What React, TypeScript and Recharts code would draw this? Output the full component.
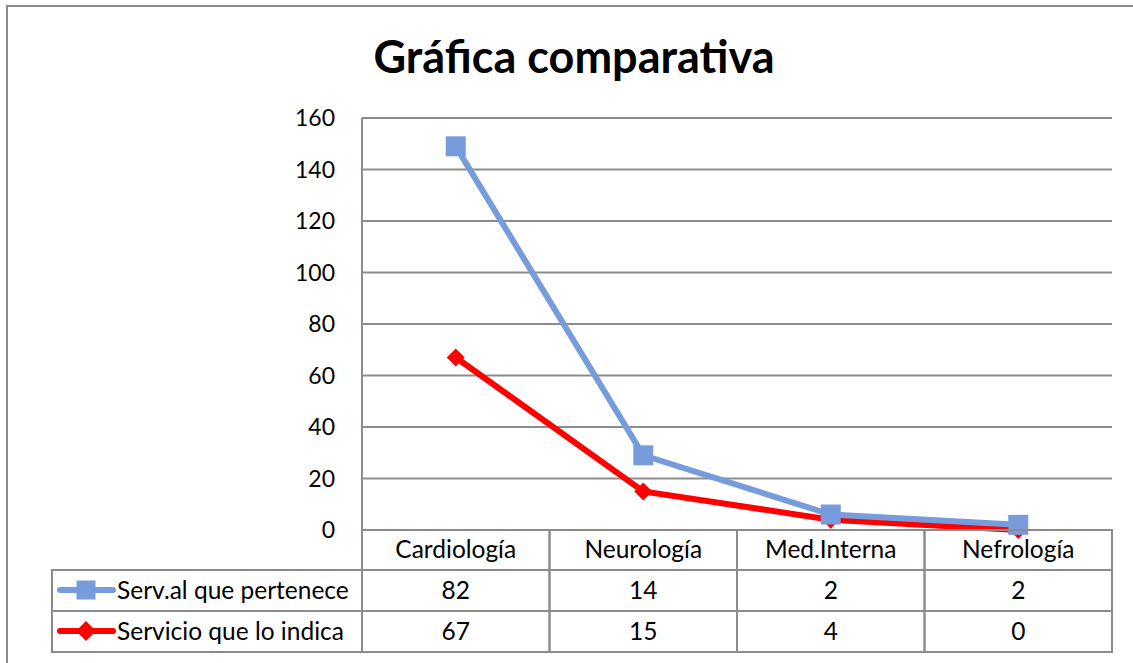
import React from "react";
import { ComposedChart, Area, XAxis, YAxis, CartesianGrid } from "recharts";

const categories = ["Cardiología", "Neurología", "Med.Interna", "Nefrología"];
const servPertenece = [82, 14, 2, 2];
const servIndica = [67, 15, 4, 0];
const yTicks = [0, 20, 40, 60, 80, 100, 120, 140, 160];
const SERIES_A = "Serv.al que pertenece";
const SERIES_B = "Servicio que lo indica";

const BLUE = "#779CDB";
const RED = "#FF0000";
const GRID = "#8C8C8C";
const FONT = "Lato, 'Open Sans', sans-serif";

const W = 1133;
const H = 663;
const PLOT_LEFT = 362;
const PLOT_RIGHT = 1112;
const PLOT_TOP = 118;
const PLOT_BOTTOM = 530;
const ROW1 = 570;
const ROW2 = 611;
const ROW3 = 652;
const LEG_LEFT = 52;

const data = categories.map((name, i) => ({
  name,
  indica: servIndica[i],
  pertenece: servPertenece[i],
}));

const Square = ({ cx, cy, size = 20 }: { cx: number; cy: number; size?: number }) => (
  <rect x={cx - size / 2} y={cy - size / 2} width={size} height={size} fill={BLUE} />
);

const Diamond = ({ cx, cy, r = 9 }: { cx: number; cy: number; r?: number }) => (
  <polygon points={`${cx},${cy - r} ${cx + r},${cy} ${cx},${cy + r} ${cx - r},${cy}`} fill={RED} />
);

// data table under the plot, drawn per category tick
const TableTick = (props: any) => {
  const { x, payload, index } = props;
  const w = (PLOT_RIGHT - PLOT_LEFT) / categories.length;
  const left = x - w / 2;
  const cell = { fill: "none", stroke: GRID, strokeWidth: 2 };
  const txt = { fontFamily: FONT, fontSize: 24.5, fill: "#000", textAnchor: "middle" as const };
  return (
    <g>
      <rect x={left} y={PLOT_BOTTOM} width={w} height={ROW1 - PLOT_BOTTOM} {...cell} />
      <rect x={left} y={ROW1} width={w} height={ROW2 - ROW1} {...cell} />
      <rect x={left} y={ROW2} width={w} height={ROW3 - ROW2} {...cell} />
      <text x={x} y={558} {...txt}>{payload.value}</text>
      <text x={x} y={599} {...txt}>{servPertenece[index]}</text>
      <text x={x} y={640} {...txt}>{servIndica[index]}</text>
      {index === 0 && (
        <g>
          <rect x={LEG_LEFT} y={ROW1} width={PLOT_LEFT - LEG_LEFT} height={ROW2 - ROW1} {...cell} />
          <rect x={LEG_LEFT} y={ROW2} width={PLOT_LEFT - LEG_LEFT} height={ROW3 - ROW2} {...cell} />
          <line x1={60} x2={113} y1={590} y2={590} stroke={BLUE} strokeWidth={6} strokeLinecap="round" />
          <Square cx={86} cy={590} size={19} />
          <text x={117} y={599} fontFamily={FONT} fontSize={24.5} fill="#000">{SERIES_A}</text>
          <line x1={60} x2={113} y1={631} y2={631} stroke={RED} strokeWidth={6} strokeLinecap="round" />
          <Diamond cx={86} cy={631} r={10} />
          <text x={117} y={640} fontFamily={FONT} fontSize={24.5} fill="#000">{SERIES_B}</text>
        </g>
      )}
    </g>
  );
};

export default function App() {
  return (
    <div style={{ position: "absolute", left: 0, top: 0, width: W, height: H, overflow: "hidden", background: "#fff" }}>
      <div
        style={{
          position: "absolute",
          left: 6,
          top: 5,
          width: 1200,
          height: 720,
          border: `2.5px solid ${GRID}`,
        }}
      />
      <div
        style={{
          position: "absolute",
          left: 0,
          top: 29,
          width: 1148,
          textAlign: "center",
          fontFamily: FONT,
          fontWeight: 700,
          fontSize: 45,
          lineHeight: "54px",
        }}
      >
        Gráfica comparativa
      </div>
      <div style={{ position: "absolute", left: 0, top: 0 }}>
        <ComposedChart
          width={W}
          height={H}
          data={data}
          margin={{ top: PLOT_TOP, right: W - PLOT_RIGHT, bottom: 0, left: PLOT_LEFT - 60 }}
        >
          <CartesianGrid horizontal vertical={false} stroke={GRID} strokeWidth={2} />
          <XAxis
            dataKey="name"
            scale="band"
            height={H - PLOT_BOTTOM}
            axisLine={{ stroke: GRID, strokeWidth: 2 }}
            tickLine={false}
            tick={<TableTick />}
            interval={0}
          />
          <YAxis
            width={60}
            domain={[0, 160]}
            ticks={yTicks}
            axisLine={{ stroke: GRID, strokeWidth: 2 }}
            tickLine={false}
            tickSize={0}
            tickMargin={27}
            tick={{ fontFamily: FONT, fontSize: 23, fill: "#000" }}
          />
          <Area
            type="linear"
            dataKey="indica"
            name={SERIES_B}
            stackId="s"
            stroke={RED}
            strokeWidth={6}
            fill="none"
            fillOpacity={0}
            activeDot={false}
            isAnimationActive={false}
            dot={(p: any) => <Diamond key={`d-${p.index}`} cx={p.cx} cy={p.cy} />}
          />
          <Area
            type="linear"
            dataKey="pertenece"
            name={SERIES_A}
            stackId="s"
            stroke={BLUE}
            strokeWidth={6}
            fill="none"
            fillOpacity={0}
            activeDot={false}
            isAnimationActive={false}
            dot={(p: any) => <Square key={`s-${p.index}`} cx={p.cx} cy={p.cy} />}
          />
        </ComposedChart>
      </div>
    </div>
  );
}
